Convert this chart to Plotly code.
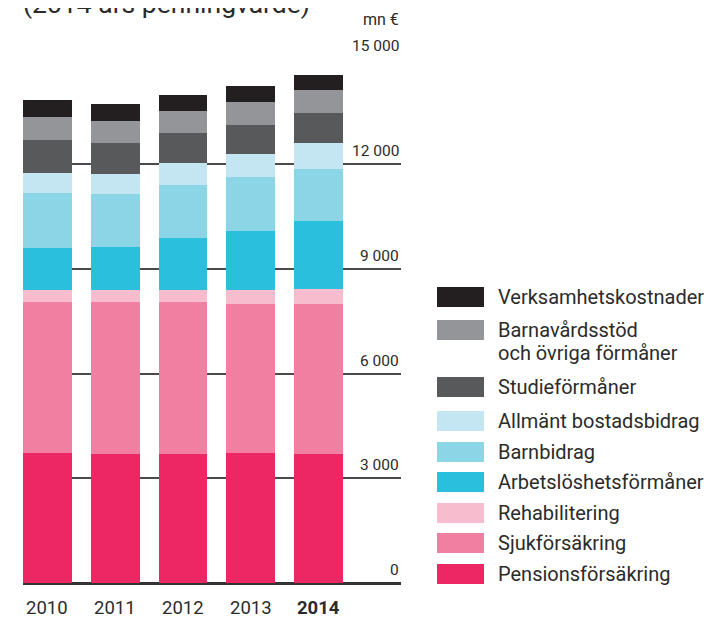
import plotly.graph_objects as go

years = ["2010", "2011", "2012", "2013", "2014"]
year_labels = ["2010", "2011", "2012", "2013", "<b>2014</b>"]

series_names = [
    "Pensionsförsäkring",
    "Sjukförsäkring",
    "Rehabilitering",
    "Arbetslöshetsförmåner",
    "Barnbidrag",
    "Allmänt bostadsbidrag",
    "Studieförmåner",
    "Barnavårdsstöd<br>och övriga förmåner",
    "Verksamhetskostnader",
]

pension = [3720, 3695, 3695, 3720, 3695]
sjuk = [4325, 4350, 4350, 4265, 4295]
rehab = [345, 345, 345, 400, 430]
arbets = [1200, 1230, 1490, 1690, 1945]
barnbidrag = [1575, 1520, 1520, 1545, 1490]
bostad = [570, 575, 630, 660, 745]
studie = [945, 890, 860, 830, 860]
barnavard = [660, 630, 630, 660, 660]
verksamhet = [485, 485, 460, 460, 430]

series_values = [pension, sjuk, rehab, arbets, barnbidrag, bostad, studie, barnavard, verksamhet]
colors = ["#ec2764", "#f07fa2", "#f7bccd", "#2bbfde", "#8bd5e6", "#c4e6f2", "#58595b", "#939598", "#231f20"]

tick_vals = [0, 3000, 6000, 9000, 12000, 15000]
tick_text = ["0", "3 000", "6 000", "9 000", "12 000", "15 000"]
unit_label = "mn €"
title_text = "(2014 års penningvärde)"

FONT = "Roboto, sans-serif"
TXT = "#2b2b2b"

OFF = 8  # page body margin
W, H = 720 - OFF, 618 - OFF
L, R, T, B = 23, 401, 59, 583  # plot area in page pixels

def px(x):
    return (x - L) / (R - L)

def py(y):
    return (B - y) / (B - T)

fig = go.Figure()
for name, vals, col in zip(series_names, series_values, colors):
    fig.add_trace(go.Bar(x=list(range(len(years))), y=vals, name=name.replace("<br>", " "),
                         marker=dict(color=col, line=dict(width=0)),
                         showlegend=False))

shapes = []
annotations = []

for v, t in zip(tick_vals, tick_text):
    annotations.append(dict(x=1, xref="paper", y=v, yref="y", text=t,
                            xanchor="right", yanchor="bottom", yshift=2,
                            showarrow=False, font=dict(family=FONT, size=15.5, color=TXT)))

annotations.append(dict(x=1, xref="paper", y=py(20), yref="paper", text=unit_label,
                        xanchor="right", yanchor="middle", showarrow=False,
                        font=dict(family=FONT, size=16, color=TXT)))
annotations.append(dict(x=px(21), xref="paper", y=py(14), yref="paper", text=title_text,
                        xanchor="left", yanchor="bottom", yshift=-7, showarrow=False,
                        font=dict(family=FONT, size=26.5, color=TXT)))

# year labels as annotations (x positions through the category axis)
for i, lab in enumerate(year_labels):
    annotations.append(dict(x=i, xref="x", y=py(608), yref="paper", text=lab,
                            xanchor="center", yanchor="middle", showarrow=False,
                            font=dict(family=FONT, size=18.5, color=TXT)))

# legend (manual, top to bottom)
legend_rows = list(zip(series_names, colors))[::-1]
row_centers = [297, 330, 387, 421, 452, 482, 513, 543, 574]
for (name, col), cy in zip(legend_rows, row_centers):
    shapes.append(dict(type="rect", xref="paper", yref="paper",
                       x0=px(437), x1=px(484), y0=py(cy - 10), y1=py(cy + 10),
                       fillcolor=col, line=dict(width=0)))
    for k, line in enumerate(name.split("<br>")):
        annotations.append(dict(x=px(496), xref="paper", y=py(cy + 23 * k), yref="paper",
                                text=line, xanchor="left", yanchor="middle",
                                align="left", showarrow=False,
                                font=dict(family=FONT, size=20, color=TXT)))

fig.update_layout(
    width=W, height=H,
    margin=dict(l=L - OFF, r=W - (R - OFF), t=T - OFF, b=H - (B - OFF), pad=0, autoexpand=False),
    barmode="stack", bargap=0.277,
    plot_bgcolor="white", paper_bgcolor="white",
    xaxis=dict(range=[-0.3615, 5.218], tickmode="array", tickvals=list(range(len(years))),
               showticklabels=False, showgrid=False, zeroline=False, showline=False, automargin=False,
               ticks=""),
    yaxis=dict(range=[0, 15000 * 1.0005], tickvals=tick_vals, showticklabels=False, automargin=False,
               showgrid=True, gridcolor="#4a4a4a", gridwidth=1.5,
               zeroline=True, zerolinecolor="#333333", zerolinewidth=3,
               showline=False, ticks=""),
    shapes=shapes, annotations=annotations,
    showlegend=False,
)

fig.write_html("out.html")
